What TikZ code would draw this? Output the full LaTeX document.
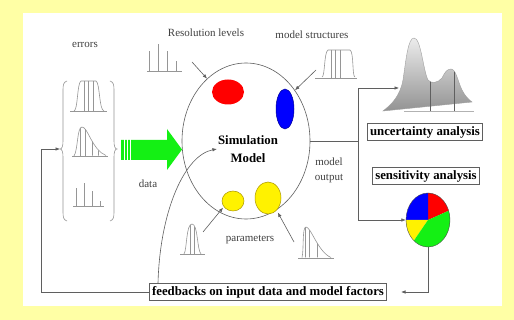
\documentclass[tikz,border=0pt]{standalone}
\usepackage{fontspec}
\setmainfont{Liberation Serif}
\usetikzlibrary{arrows.meta,shapes.geometric}
\definecolor{bgyellow}{RGB}{255,255,165}
\definecolor{linegray}{RGB}{95,95,95}
\definecolor{icongray}{RGB}{150,150,150}
\definecolor{pgreen}{RGB}{20,240,20}
\definecolor{yelline}{RGB}{170,150,0}
\begin{document}
\begin{tikzpicture}[x=1pt,y=-1pt,
  conn/.style={draw=linegray, line width=0.6pt},
  tip/.style={-{Latex[length=4.5pt,width=3.5pt]}},
  lbl/.style={font=\fontsize{11}{15}\selectfont, inner sep=0pt, text=black!75, align=center},
  boldbox/.style={draw=linegray, line width=0.6pt, font=\fontsize{12.8}{14}\selectfont\bfseries, inner sep=2.8pt, fill=white},
  icon/.style={draw=icongray, line width=0.6pt},
  blob/.style={ellipse, inner sep=0pt},
]
\fill[bgyellow] (0,0) rectangle (514,320);
\fill[white] (23,13) rectangle (502,306);
\useasboundingbox (0,0) rectangle (514,320);

% main ellipse
\node[blob, draw=linegray, line width=0.6pt, minimum width=128pt, minimum height=156pt] (sim) at (246,141) {};
\node[font=\fontsize{12.8}{18}\selectfont\bfseries, align=center, inner sep=1pt] (simtxt) at (248,149) {Simulation\\Model};

% inner blobs
\node[blob, fill=red, minimum width=32pt, minimum height=25pt] (res) at (228,92) {};
\node[blob, fill=blue, draw=blue!60!black, line width=0.5pt, minimum width=18pt, minimum height=40pt] (struct) at (285,109) {};
\node[blob, fill=yellow, draw=yelline, line width=0.5pt, minimum width=22pt, minimum height=20pt] (ysmall) at (233,201) {};
\node[blob, fill=yellow, draw=yelline, line width=0.5pt, minimum width=26pt, minimum height=32pt] (ylarge) at (268,198) {};

% labels
\node[lbl] (lerr) at (85,45) {errors};
\node[lbl] (lres) at (206,33) {Resolution levels};
\node[lbl] (lstr) at (312,35) {model structures};
\node[lbl] (ldata) at (148,184) {data};
\node[lbl] (lpar) at (250,240) {parameters};
\node[lbl] (lout) at (329,170) {model\\output};

% resolution icon
\draw[icon] (147,71) -- (182,71) (149,71) -- (149,51) (158,71) -- (158,44) (167,71) -- (167,51) (176,71) -- (176,61);
% errors bar icon
\draw[icon] (73,206) -- (104,206) (76,206) -- (76,188) (84,206) -- (84,183) (92,206) -- (92,191) (100,206) -- (100,201);

% model structures icon
\draw[icon] (315,78) -- (357,78);
\draw[icon] (322,77) .. controls (325,77) and (324,52) .. (328,50) -- (350,50) .. controls (354,52) and (352,77) .. (355,77);
\draw[icon] (331,50) -- (331,78) (335.5,50) -- (335.5,78) (340,50) -- (340,78);

% errors top icon
\draw[icon] (70,111) -- (107,111);
\draw[icon] (74,111) .. controls (78,110) and (77,83) .. (81,81) -- (96,81) .. controls (100,83) and (99,110) .. (104,111);
\draw[icon] (84,81) -- (84,111) (88.5,81) -- (88.5,111) (93,81) -- (93,111);

% errors middle icon
\draw[icon] (72,156) -- (108,156);
\draw[icon] (74,156) .. controls (78,150) and (77,127) .. (82,127) .. controls (88,127) and (92,150) .. (106,155.5);
\begin{scope}
\clip (74,156) .. controls (78,150) and (77,127) .. (82,127) .. controls (88,127) and (92,150) .. (106,155.5) -- cycle;
\draw[icon] (80,120) -- (80,157) (85,120) -- (85,157) (92,120) -- (92,157) (98,120) -- (98,157);
\end{scope}

% parameter left icon
\draw[icon] (180,254) -- (205,254);
\draw[icon] (184,254) .. controls (187,250) and (186,224) .. (192,224) .. controls (198,224) and (197,250) .. (201,254);
\begin{scope}
\clip (184,254) .. controls (187,250) and (186,224) .. (192,224) .. controls (198,224) and (197,250) .. (201,254) -- cycle;
\draw[icon] (190,220) -- (190,255) (194,220) -- (194,255);
\end{scope}

% parameter right icon
\draw[icon] (298,258) -- (334,258);
\draw[icon] (302,257.5) .. controls (304,250) and (302,227) .. (306,227) .. controls (311,227) and (318,252) .. (331,257.5);
\begin{scope}
\clip (302,257.5) .. controls (304,250) and (302,227) .. (306,227) .. controls (311,227) and (318,252) .. (331,257.5) -- cycle;
\draw[icon] (305,220) -- (305,259) (309,220) -- (309,259) (317,220) -- (317,259);
\end{scope}

% braces
\draw[icon] (67,81) .. controls (63.5,82) and (63,85) .. (63,90) -- (63,141) .. controls (63,146) and (62,149) .. (60,149) .. controls (62,149) and (63,152) .. (63,157) -- (63,212) .. controls (63,217) and (63.5,220) .. (67,221);
\draw[icon] (110,81) .. controls (113.5,82) and (114,85) .. (114,90) -- (114,141) .. controls (114,146) and (115,149) .. (117,149) .. controls (115,149) and (114,152) .. (114,157) -- (114,212) .. controls (114,217) and (113.5,220) .. (110,221);
\coordinate (errL) at (60,149);

% green data arrow
\fill[pgreen] (121,140) -- (167,140) -- (167,129) -- (182,149.5) -- (167,170) -- (167,160) -- (121,160) -- cycle;
\draw[white, line width=0.9pt] (124.5,139) -- (124.5,161) (127.5,139) -- (127.5,161) (130,139) -- (130,161);

% uncertainty distribution
\shade[top color=gray!15, bottom color=gray!85, draw=gray!75, line width=0.4pt]
  (383,111) .. controls (392,104) and (400,96) .. (403,80) .. controls (406,60) and (408,38) .. (414,38) .. controls (421,38) and (423,70) .. (428,80) .. controls (431,84) and (438,83) .. (442,78) .. controls (445,72) and (447,69) .. (451,69) .. controls (456,69) and (458,82) .. (462,90) .. controls (465,96) and (469,100) .. (472,102) -- cycle;
\draw[draw=gray!60, line width=0.5pt] (404,111) -- (474,111);
\begin{scope}
\clip (383,111) .. controls (392,104) and (400,96) .. (403,80) .. controls (406,60) and (408,38) .. (414,38) .. controls (421,38) and (423,70) .. (428,80) .. controls (431,84) and (438,83) .. (442,78) .. controls (445,72) and (447,69) .. (451,69) .. controls (456,69) and (458,82) .. (462,90) .. controls (465,96) and (469,100) .. (472,102) -- (472,112) -- (383,112) -- cycle;
\draw[linegray, line width=0.6pt] (430,60) -- (430,111) (454,60) -- (454,111);
\end{scope}
\coordinate (uncin) at (399,88);

% pie chart (angles measured with y pointing up in pt units)
\begin{scope}[shift={(428,220)}]
\fill[red] (0,0) -- (20:22pt and 27pt) arc[start angle=20, end angle=90, x radius=22pt, y radius=27pt] -- cycle;
\fill[blue] (0,0) -- (90:22pt and 27pt) arc[start angle=90, end angle=180, x radius=22pt, y radius=27pt] -- cycle;
\fill[yellow] (0,0) -- (180:22pt and 27pt) arc[start angle=180, end angle=230, x radius=22pt, y radius=27pt] -- cycle;
\fill[pgreen] (0,0) -- (230:22pt and 27pt) arc[start angle=230, end angle=380, x radius=22pt, y radius=27pt] -- cycle;
\end{scope}
\node[blob, draw=gray!60!black, line width=0.4pt, minimum width=44pt, minimum height=54pt] (pie) at (428,220) {};

% boxes
\node[boldbox] (ua) at (425,132) {uncertainty analysis};
\node[boldbox] (sa) at (426,176) {sensitivity analysis};
\node[boldbox] (fb) at (268,292) {feedbacks on input data and model factors};

% connectors
\coordinate (split) at (358,141);
\coordinate (loop) at (41,149);
\draw[conn] (sim.east) -- (split);
\draw[conn,tip] (split) |- (uncin);
\draw[conn,tip] (split) |- (pie.west);
\draw[conn,tip] (pie.south) |- ([xshift=14pt]fb.east);
\draw[conn] (fb.west) -| (loop);
\draw[conn,tip] (loop) -- (errL);
\draw[conn,tip] ([xshift=-110pt]fb.north) .. controls (160,210) and (185,155) .. (simtxt.west);

\coordinate (resfrom) at (192,62);
\coordinate (strfrom) at (316,70);
\coordinate (parLfrom) at (203,232);
\coordinate (parRfrom) at (294,242);
\draw[conn,tip] (resfrom) -- (sim.122);
\draw[conn,tip] (strfrom) -- (sim.46);
\draw[conn,tip,shorten >=1pt] (parLfrom) -- (ysmall.212);
\draw[conn,tip,shorten >=2.5pt] (parRfrom) -- (ylarge.-55);
\end{tikzpicture}
\end{document}
